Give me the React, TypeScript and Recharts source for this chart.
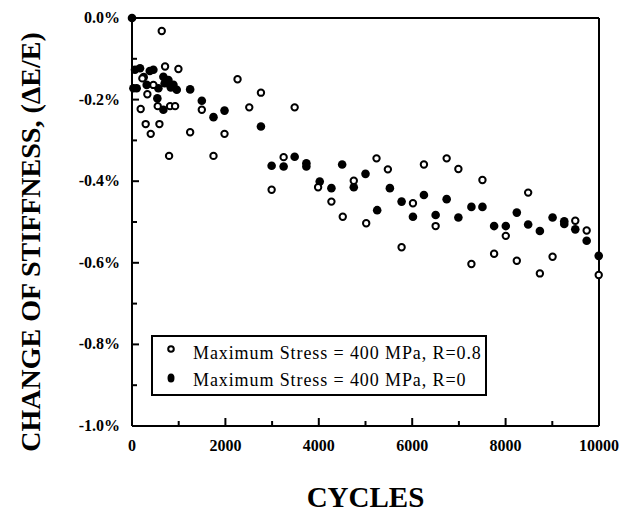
import { ScatterChart, Scatter, XAxis, YAxis, ReferenceLine, Legend } from 'recharts';

// R = 0.8 series (open circles): [cycles, change of stiffness in %]
const openX = [
  637, 708, 994, 222, 458, 329, 2260, 2761, 186, 551, 815, 923, 1495, 2511, 293, 587, 401, 1245,
  1981, 794, 1745, 3247, 2990, 3483, 5236, 5479, 6251, 6738, 3985, 4270, 4749, 4513, 5015, 6016,
  5773, 6502, 6989, 7504, 8483, 8004, 9492, 9736, 9994, 7268, 7754, 8240, 8734, 9006,
];
const openY = [
  -0.032, -0.119, -0.125, -0.148, -0.164, -0.187, -0.150, -0.183, -0.223, -0.216, -0.216, -0.216,
  -0.225, -0.219, -0.260, -0.260, -0.284, -0.280, -0.284, -0.338, -0.338, -0.341, -0.421, -0.219,
  -0.344, -0.371, -0.359, -0.344, -0.415, -0.450, -0.399, -0.487, -0.503, -0.454, -0.562, -0.510,
  -0.370, -0.397, -0.428, -0.534, -0.497, -0.521, -0.630, -0.603, -0.578, -0.595, -0.626, -0.585,
];

// R = 0 series (filled circles)
const filledX = [
  0, 30, 64, 172, 380, 458, 100, 250, 315, 565, 672, 700, 780, 830, 887, 958, 1245, 1495, 543, 672,
  1745, 1981, 2761, 2990, 3247, 3483, 3734, 3734, 4500, 4020, 4270, 4749, 5000, 5250, 5522, 5773,
  6016, 6251, 6502, 6738, 6989, 7268, 7504, 7754, 8004, 8240, 8483, 8734, 9006, 9256, 9256, 9492,
  9736, 9994,
];
const filledY = [
  0, -0.172, -0.127, -0.123, -0.130, -0.127, -0.172, -0.145, -0.164, -0.172, -0.144, -0.160, -0.152,
  -0.170, -0.164, -0.176, -0.175, -0.203, -0.197, -0.225, -0.243, -0.227, -0.266, -0.362, -0.364,
  -0.340, -0.356, -0.364, -0.359, -0.401, -0.417, -0.415, -0.382, -0.471, -0.417, -0.450, -0.487,
  -0.434, -0.483, -0.444, -0.489, -0.463, -0.463, -0.510, -0.510, -0.477, -0.506, -0.522, -0.489,
  -0.498, -0.505, -0.518, -0.546, -0.583,
];

const xTicks = [0, 1000, 2000, 3000, 4000, 5000, 6000, 7000, 8000, 9000, 10000];
const yTicks = [0, -0.1, -0.2, -0.3, -0.4, -0.5, -0.6, -0.7, -0.8, -0.9, -1.0];

const openData = openX.map((x, i) => ({ x, y: openY[i] }));
const filledData = filledX.map((x, i) => ({ x, y: filledY[i] }));

const FONT = '"Liberation Serif", "Times New Roman", serif';

const XTick = ({ x, y, payload }: any) => {
  const major = payload.value % 2000 === 0;
  return (
    <g>
      <line x1={x} x2={x} y1={y} y2={y - (major ? 8 : 5)} stroke="#000" strokeWidth={2} />
      {major && (
        <text x={x} y={y + 25} textAnchor="middle" fontFamily={FONT} fontWeight="bold" fontSize={16} fill="#000">
          {payload.value}
        </text>
      )}
    </g>
  );
};

const YTick = ({ x, y, payload }: any) => {
  const major = Math.round(payload.value * 10) % 2 === 0;
  return (
    <g>
      <line x1={x} x2={x + (major ? 7 : 5)} y1={y} y2={y} stroke="#000" strokeWidth={2} />
      {major && (
        <text x={x - 12} y={y + 5} textAnchor="end" fontFamily={FONT} fontWeight="bold" fontSize={16} fill="#000">
          {`${payload.value.toFixed(1)}%`}
        </text>
      )}
    </g>
  );
};

const OpenDot = ({ cx, cy }: any) => (
  <circle cx={cx} cy={cy} r={3.2} fill="#fff" stroke="#000" strokeWidth={2} />
);
const FilledDot = ({ cx, cy }: any) => <circle cx={cx} cy={cy} r={4.3} fill="#000" />;

const YTitle = ({ viewBox }: any) => {
  const cx = viewBox.x + 30;
  const cy = viewBox.y + viewBox.height / 2 + 20;
  return (
    <text
      x={cx}
      y={cy}
      transform={`rotate(-90, ${cx}, ${cy})`}
      textAnchor="middle"
      dominantBaseline="central"
      fontFamily={FONT}
      fontWeight="bold"
      fontSize={28}
      fill="#000"
    >
      CHANGE OF STIFFNESS, (ΔE/E)
    </text>
  );
};

const LegendBox = () => (
  <div
    style={{
      width: 336,
      height: 61,
      boxSizing: 'border-box',
      border: '2px solid #000',
      background: '#fff',
      fontFamily: FONT,
      fontSize: 18,
      letterSpacing: 0.9,
      color: '#000',
      position: 'relative',
    }}
  >
    {[
      { label: 'Maximum Stress = 400 MPa, R=0.8', open: true, top: 4 },
      { label: 'Maximum Stress = 400 MPa, R=0', open: false, top: 31 },
    ].map((row) => (
      <div key={row.label} style={{ position: 'absolute', left: 0, top: row.top, height: 24, width: '100%' }}>
        <svg width={20} height={20} style={{ position: 'absolute', left: 8, top: 0 }}>
          {row.open ? (
            <circle cx={10} cy={8} r={2.8} fill="#fff" stroke="#000" strokeWidth={2} />
          ) : (
            <ellipse cx={10} cy={10} rx={3.5} ry={4.5} fill="#000" />
          )}
        </svg>
        <span style={{ position: 'absolute', left: 40, top: 0, lineHeight: '24px', whiteSpace: 'nowrap' }}>
          {row.label}
        </span>
      </div>
    ))}
  </div>
);

export default function App() {
  return (
    <div style={{ position: 'absolute', left: 0, top: 0, background: '#fff' }}>
      <ScatterChart width={630} height={515} margin={{ top: 18, right: 31, left: 0, bottom: 0 }}>
        <XAxis
          type="number"
          dataKey="x"
          domain={[0, 10000]}
          ticks={xTicks}
          interval={0}
          height={89}
          tickSize={0}
          tickMargin={0}
          tickLine={false}
          axisLine={{ stroke: '#000', strokeWidth: 2 }}
          tick={<XTick />}
          label={{
            value: 'CYCLES',
            position: 'insideBottom',
            offset: 8,
            style: { fontFamily: FONT, fontWeight: 'bold', fontSize: 29, fill: '#000' },
          }}
        />
        <YAxis
          type="number"
          dataKey="y"
          domain={[-1, 0]}
          ticks={yTicks}
          interval={0}
          width={132}
          tickSize={0}
          tickMargin={0}
          tickLine={false}
          axisLine={{ stroke: '#000', strokeWidth: 2 }}
          tick={<YTick />}
          label={<YTitle />}
        />
        <ReferenceLine y={0} stroke="#000" strokeWidth={2} />
        <ReferenceLine x={10000} stroke="#000" strokeWidth={2} />
        <Legend
          layout="vertical"
          align="center"
          verticalAlign="middle"
          wrapperStyle={{ left: 151, top: 335, width: 336, height: 61 }}
          content={<LegendBox />}
        />
        <Scatter name="R=0" data={filledData} shape={<FilledDot />} isAnimationActive={false} />
        <Scatter name="R=0.8" data={openData} shape={<OpenDot />} isAnimationActive={false} />
      </ScatterChart>
    </div>
  );
}
